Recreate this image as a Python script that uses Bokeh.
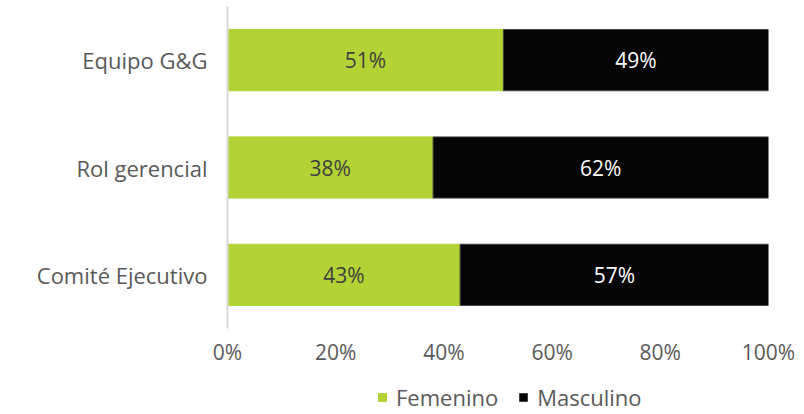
from bokeh.plotting import figure
from bokeh.layouts import column
from bokeh.models import ColumnDataSource, Range1d, FixedTicker, Legend, LegendItem, NumeralTickFormatter
from bokeh.core.properties import value
from bokeh.embed import file_html
from bokeh.resources import INLINE

categories = ["Equipo G&G", "Rol gerencial", "Comité Ejecutivo"]
femenino = [0.51, 0.38, 0.43]
masculino = [0.49, 0.62, 0.57]
x_ticks = [0, 0.2, 0.4, 0.6, 0.8, 1.0]

GREEN = "#b3d335"
BLACK = "#050505"
FONT = "Open Sans"
FS_NUM = "21px"
FS_TXT = "22px"

pos = list(range(len(categories)))

src = ColumnDataSource(dict(
    y=pos,
    fem_end=femenino,
    mas_end=[f + m for f, m in zip(femenino, masculino)],
    fem_mid=[f / 2 for f in femenino],
    mas_mid=[f + m / 2 for f, m in zip(femenino, masculino)],
    fem_lbl=[f"{round(f*100)}%" for f in femenino],
    mas_lbl=[f"{round(m*100)}%" for m in masculino],
))

p = figure(width=804, height=372, output_backend="svg", toolbar_location=None,
           x_range=Range1d(0, 1.0), y_range=Range1d(2.5, -0.5),
           min_border_left=227, min_border_right=36, min_border_top=6, min_border_bottom=44)

p.hbar(y="y", left=0, right="fem_end", height=0.57, source=src,
       fill_color=GREEN, line_color=GREEN, line_width=1)
p.hbar(y="y", left="fem_end", right="mas_end", height=0.57, source=src,
       fill_color=BLACK, line_color="#404040", line_width=1)

p.text(x="fem_mid", y="y", text="fem_lbl", source=src, text_align="center",
       text_baseline="middle", text_font=value(FONT), text_font_size=FS_NUM,
       text_color="#404040")
p.text(x="mas_mid", y="y", text="mas_lbl", source=src, text_align="center",
       text_baseline="middle", text_font=value(FONT), text_font_size=FS_NUM,
       text_color="#ffffff")

p.xgrid.visible = False
p.ygrid.visible = False
p.outline_line_color = None

p.xaxis.ticker = FixedTicker(ticks=x_ticks)
p.xaxis.formatter = NumeralTickFormatter(format="0%")
p.xaxis.axis_line_color = None
p.xaxis.major_tick_line_color = None
p.xaxis.minor_tick_line_color = None
p.xaxis.major_tick_out = 0
p.xaxis.major_label_text_font = FONT
p.xaxis.major_label_text_font_size = FS_NUM
p.xaxis.major_label_text_color = "#595959"
p.xaxis.major_label_standoff = 9

p.yaxis.ticker = FixedTicker(ticks=pos)
p.yaxis.major_label_overrides = {i: c for i, c in enumerate(categories)}
p.yaxis.axis_line_color = "#d9d9d9"
p.yaxis.axis_line_width = 2
p.yaxis.major_tick_line_color = None
p.yaxis.minor_tick_line_color = None
p.yaxis.major_label_text_font = FONT
p.yaxis.major_label_text_font_size = FS_TXT
p.yaxis.major_label_text_color = "#595959"
p.yaxis.major_label_standoff = 14

# legend strip below the chart (same data, glyphs kept out of view)
pl = figure(width=804, height=42, output_backend="svg", toolbar_location=None,
            x_range=Range1d(0, 1.0), y_range=Range1d(10, 11),
            x_axis_type=None, y_axis_type=None,
            min_border_left=0, min_border_right=0, min_border_top=0, min_border_bottom=0)
pl.xgrid.visible = False
pl.ygrid.visible = False
pl.outline_line_color = None
l1 = pl.hbar(y="y", left=0, right="fem_end", height=0.57, source=src,
             fill_color=GREEN, line_color=GREEN, line_width=1)
l2 = pl.hbar(y="y", left="fem_end", right="mas_end", height=0.57, source=src,
             fill_color=BLACK, line_color="#404040", line_width=1)

legend = Legend(items=[LegendItem(label="Femenino", renderers=[l1]),
                       LegendItem(label="Masculino", renderers=[l2])],
                orientation="horizontal", location=(150, 2),
                label_text_font=FONT, label_text_font_size=FS_TXT,
                label_text_color="#595959", glyph_width=10, glyph_height=10,
                label_standoff=9, spacing=20, padding=0, margin=0,
                border_line_color=None, background_fill_alpha=0)
pl.add_layout(legend, "center")

layout = column(p, pl, spacing=0)
open("out.html", "w").write(file_html(layout, INLINE))
